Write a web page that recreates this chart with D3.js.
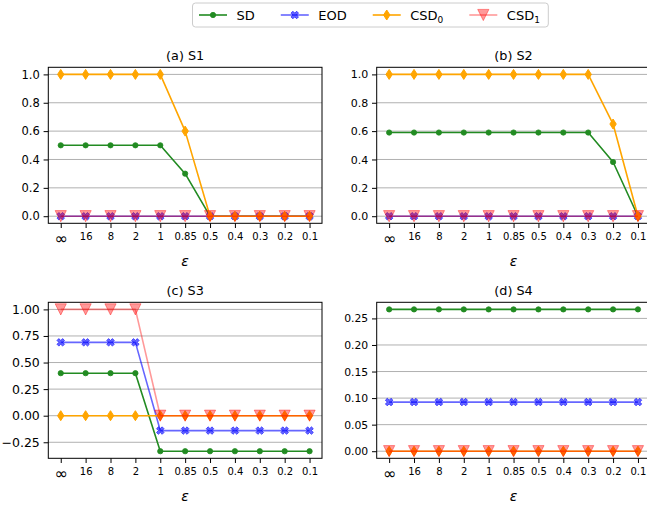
<!DOCTYPE html>
<html><head><meta charset="utf-8">
<script src="https://cdn.jsdelivr.net/npm/d3@7/dist/d3.min.js"></script>
<style>body{margin:0;background:#fff}svg{display:block}</style>
</head><body>
<svg id="chart" width="647" height="506"></svg>
<script>
// ---- data ----
const categories = ["∞","16","8","2","1","0.85","0.5","0.4","0.3","0.2","0.1"];
const panelTitles = ["(a) S1","(b) S2","(c) S3","(d) S4"];
const seriesNames = ["SD","EOD","CSD0","CSD1"];
// values per panel (S1..S4)
const SD = [
  [0.5,0.5,0.5,0.5,0.5,0.3,0,0,0,0,0],
  [0.59,0.59,0.59,0.59,0.59,0.59,0.59,0.59,0.59,0.382,0],
  [0.4,0.4,0.4,0.4,-0.334,-0.334,-0.334,-0.334,-0.334,-0.334,-0.334],
  [0.267,0.267,0.267,0.267,0.267,0.267,0.267,0.267,0.267,0.267,0.267]
];
const EOD = [
  [0,0,0,0,0,0,0,0,0,0,0],
  [0,0,0,0,0,0,0,0,0,0,0],
  [0.69,0.69,0.69,0.69,-0.14,-0.14,-0.14,-0.14,-0.14,-0.14,-0.14],
  [0.0925,0.0925,0.0925,0.0925,0.0925,0.0925,0.0925,0.0925,0.0925,0.0925,0.0925]
];
const CSD0 = [
  [1,1,1,1,1,0.6,0,0,0,0,0],
  [1,1,1,1,1,1,1,1,1,0.65,0],
  [0,0,0,0,0,0,0,0,0,0,0],
  [0,0,0,0,0,0,0,0,0,0,0]
];
const CSD1 = [
  [0,0,0,0,0,0,0,0,0,0,0],
  [0,0,0,0,0,0,0,0,0,0,0],
  [1,1,1,1,0,0,0,0,0,0,0],
  [0,0,0,0,0,0,0,0,0,0,0]
];
const yTickValues = [
  [0,0.2,0.4,0.6,0.8,1.0],
  [0,0.2,0.4,0.6,0.8,1.0],
  [-0.25,0,0.25,0.5,0.75,1.0],
  [0,0.05,0.1,0.15,0.2,0.25]
];
const yTickFormats = [".1f",".1f",".2f",".2f"];

// ---- styles ----
const styles = [
  {color:"#228B22", alpha:1,   marker:"dot"},
  {color:"#0000ff", alpha:0.6, marker:"X"},
  {color:"#FFA500", alpha:1,   marker:"d"},
  {color:"#ff0000", alpha:0.4, marker:"v"}
];
const seriesData = [SD, EOD, CSD0, CSD1];

const svg = d3.select("#chart");
const FONT = "'DejaVu Sans', sans-serif";

const lefts = [48.3, 376.7], tops = [67.3, 302.3];
const W = 273.7, H = 156;
const yFont = [11.5, 11, 12.5, 10.8];

function markerPath(type){
  if(type === "X"){
    const s = 8/6;
    const pts = [[-1,-3],[1,-3],[1,-1],[3,-1],[3,1],[1,1],[1,3],[-1,3],[-1,1],[-3,1],[-3,-1],[-1,-1]];
    const c = Math.SQRT1_2;
    const r = pts.map(([x,y]) => [(x*c - y*c)*s, (x*c + y*c)*s]);
    return "M" + r.map(p => p[0].toFixed(2)+","+p[1].toFixed(2)).join("L") + "Z";
  }
  if(type === "d"){
    const h = 5, w = 3.2;
    return `M0,${-h}L${w},0L0,${h}L${-w},0Z`;
  }
  if(type === "v"){
    const s = 5.6;
    return `M${-s},${-s}L${s},${-s}L0,${s}Z`;
  }
  return d3.symbol(d3.symbolCircle, 22)();
}

function drawMarker(g, st, x, y){
  return g.append("path")
    .attr("d", markerPath(st.marker))
    .attr("transform", `translate(${x},${y})`)
    .attr("fill", st.color).attr("fill-opacity", st.alpha)
    .attr("stroke", st.color).attr("stroke-opacity", st.alpha)
    .attr("stroke-width", st.marker === "dot" ? 0.8 : 1)
    .attr("stroke-linejoin", "round");
}

for(let pi=0; pi<4; pi++){
  const col = pi % 2, row = Math.floor(pi/2);
  const x0 = lefts[col], y0 = tops[row];
  const g = svg.append("g");

  const x = d3.scalePoint().domain(categories).range([x0, x0+W]).padding(0.5);
  const all = seriesData.flatMap(s => s[pi]);
  const [mn, mx] = d3.extent(all);
  const pad = (mx - mn) * 0.05;
  const y = d3.scaleLinear().domain([mn - pad, mx + pad]).range([y0+H, y0]);

  // grid
  g.append("g").selectAll("line").data(yTickValues[pi]).join("line")
    .attr("x1", x0).attr("x2", x0+W)
    .attr("y1", d => y(d)).attr("y2", d => y(d))
    .attr("stroke", "#b0b0b0").attr("stroke-width", 1);

  // series
  const clipId = "clip"+pi;
  svg.append("clipPath").attr("id", clipId).append("rect")
    .attr("x", x0-10).attr("y", y0-10).attr("width", W+20).attr("height", H+20);
  const dg = g.append("g").attr("clip-path", `url(#${clipId})`);
  seriesData.forEach((s, si) => {
    const st = styles[si];
    const vals = s[pi];
    const line = d3.line().x((d,i) => x(categories[i])).y(d => y(d));
    dg.append("path").attr("d", line(vals))
      .attr("fill","none").attr("stroke", st.color)
      .attr("stroke-opacity", st.alpha).attr("stroke-width", 1.6)
      .attr("stroke-linejoin","round");
    vals.forEach((v,i) => drawMarker(dg, st, x(categories[i]), y(v)));
  });

  // frame
  g.append("rect").attr("x", x0).attr("y", y0).attr("width", W).attr("height", H)
    .attr("fill","none").attr("stroke","#000").attr("stroke-width",1);

  // y axis
  const yAxis = d3.axisLeft(y).tickValues(yTickValues[pi]).tickFormat(d3.format(yTickFormats[pi]))
    .tickSize(4.7).tickPadding(3.8);
  const ya = g.append("g").attr("transform", `translate(${x0},0)`).call(yAxis);
  ya.select(".domain").remove();
  ya.selectAll("text").attr("font-family", FONT).attr("font-size", yFont[pi]).attr("fill","#000");
  ya.selectAll("line").attr("stroke","#000");

  // x axis
  const xAxis = d3.axisBottom(x).tickSize(4.7).tickPadding(3.6);
  const xa = g.append("g").attr("transform", `translate(0,${y0+H})`).call(xAxis);
  xa.select(".domain").remove();
  xa.selectAll("line").attr("stroke","#000");
  xa.selectAll("text").attr("font-family", FONT).attr("font-size", 10).attr("fill","#000")
    .attr("dy", null).attr("y", 16.7);
  xa.selectAll("text").filter(d => d === "∞").attr("font-size", 16).attr("y", 20.5);

  // x label
  g.append("text").attr("x", x0 + W/2).attr("y", y0 + H + 42.5)
    .attr("text-anchor","middle").attr("font-family", FONT).attr("font-style","italic")
    .attr("font-size", 14).text("ε");

  // title
  g.append("text").attr("x", x0 + W/2).attr("y", y0 - 7.5)
    .attr("text-anchor","middle").attr("font-family", FONT)
    .attr("font-size", 12.8).text(panelTitles[pi]);
}

// ---- legend ----
const lg = svg.append("g");
lg.append("rect").attr("x",192.5).attr("y",3).attr("width",355.8).attr("height",24)
  .attr("rx",3).attr("fill","#fff").attr("fill-opacity",0.8).attr("stroke","#cccccc").attr("stroke-width",1);
let cx = 199;
const ly = 15;
seriesNames.forEach((name, si) => {
  const st = styles[si];
  lg.append("line").attr("x1",cx).attr("x2",cx+28).attr("y1",ly).attr("y2",ly)
    .attr("stroke", st.color).attr("stroke-opacity", st.alpha).attr("stroke-width",1.6);
  drawMarker(lg, st, cx+14, ly);
  const t = lg.append("text").attr("x", cx+28+9.5).attr("y", ly+4.7)
    .attr("font-family", FONT).attr("font-size", 13);
  if(name.startsWith("CSD")){
    t.append("tspan").text("CSD");
    t.append("tspan").attr("font-size", 9).attr("dy", 3).text(name.slice(3));
  } else t.text(name);
  const w = t.node().getComputedTextLength();
  cx = cx + 28 + 9.5 + w + 26;
});
</script>
</body></html>
